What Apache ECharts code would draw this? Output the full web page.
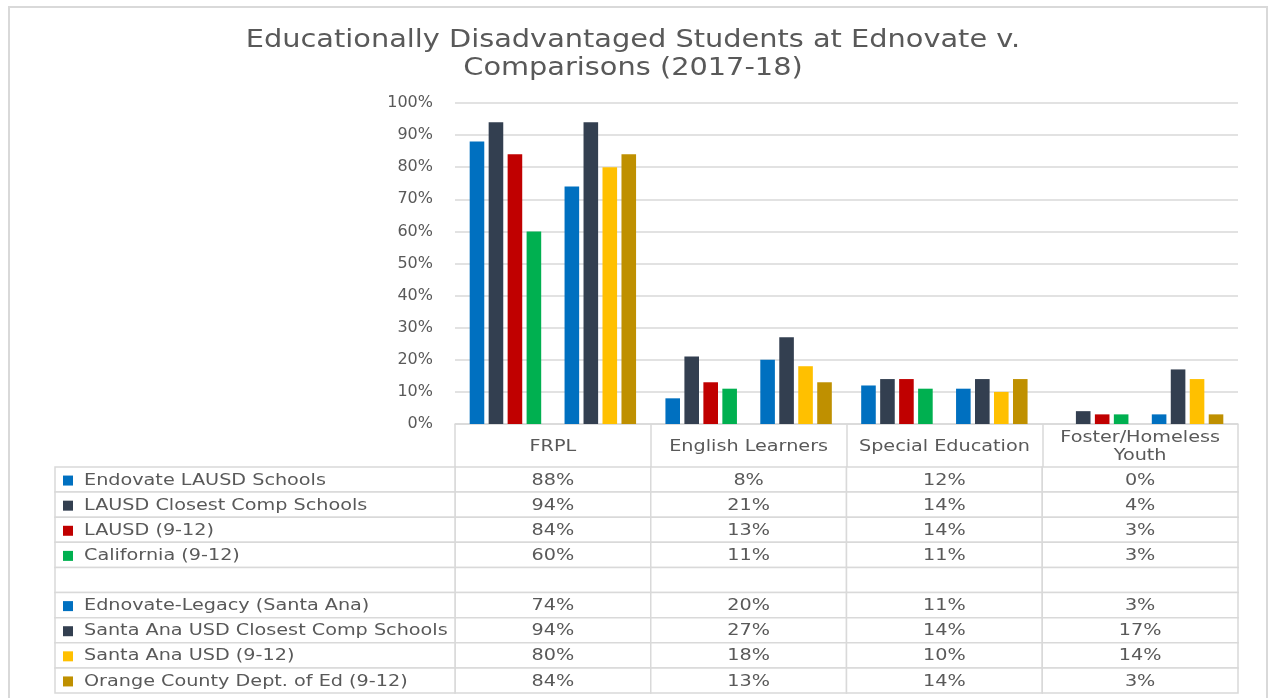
<!DOCTYPE html>
<html>
<head>
<meta charset="utf-8">
<script src="https://cdn.jsdelivr.net/npm/echarts@6/dist/echarts.min.js"></script>
<style>
	html, body { margin: 0; padding: 0; background: #fff; }
	#main { width: 1269px; height: 698px; }
</style>
</head>
<body>
<div id="main"></div>
<script>
// Categories (columns of the data table)
const categories = ['FRPL', 'English Learners', 'Special Education', 'Foster/Homeless Youth'];
const headerLines = [['FRPL'], ['English Learners'], ['Special Education'], ['Foster/Homeless', 'Youth']];

// Series names, the empty one is the spacer row of the table
const seriesNames = [
	'Endovate LAUSD Schools',
	'LAUSD Closest Comp Schools',
	'LAUSD (9-12)',
	'California (9-12)',
	'',
	'Ednovate-Legacy (Santa Ana)',
	'Santa Ana USD Closest Comp Schools',
	'Santa Ana USD (9-12)',
	'Orange County Dept. of Ed (9-12)'
];

// Values in percent, one array per series
const endovateLausd = [88, 8, 12, 0];
const lausdClosest = [94, 21, 14, 4];
const lausd = [84, 13, 14, 3];
const california = [60, 11, 11, 3];
const spacer = [null, null, null, null];
const ednovateLegacy = [74, 20, 11, 3];
const santaAnaClosest = [94, 27, 14, 17];
const santaAna = [80, 18, 10, 14];
const orangeCounty = [84, 13, 14, 3];

const seriesValues = [endovateLausd, lausdClosest, lausd, california, spacer, ednovateLegacy, santaAnaClosest, santaAna, orangeCounty];
const seriesColors = ['#0070C0', '#333F50', '#C00000', '#00B050', '#ffffff', '#0070C0', '#333F50', '#FFC000', '#BF9000'];

const textColor = '#595959';
const lineColor = '#d9d9d9';
const font = 'DejaVu Sans';
const labelColWidth = 400;
const headerHeight = 43;
const stretch = 1.2; // the original text is set wide

const myChart = echarts.init(document.getElementById('main'));

// bar series
const barSeries = seriesNames.map(function (name, i) {
	return {
		name: name || 'spacer',
		type: 'bar',
		xAxisIndex: 0,
		yAxisIndex: 0,
		barGap: '30%',
		barCategoryGap: '15%',
		itemStyle: { color: seriesColors[i] },
		data: seriesValues[i]
	};
});

// table cells: [column, row]
const cellData = [];
const cellText = [];
seriesValues.forEach(function (vals, r) {
	vals.forEach(function (v, c) {
		cellData.push([c, r]);
		cellText.push(v === null ? '' : v + '%');
	});
});
const rowData = seriesNames.map(function (n, r) {
	return [0, r];
});
const headerData = categories.map(function (c, i) {
	return [i, 0];
});

function wideText(text, x, y, align, size) {
	return {
		type: 'text',
		x: x,
		y: y,
		scaleX: stretch,
		style: {
			text: text,
			x: 0,
			y: 0,
			align: align,
			verticalAlign: 'middle',
			font: size + 'px "' + font + '"',
			fill: textColor
		}
	};
}

const option = {
	animation: false,
	graphic: [
		{
			type: 'rect',
			shape: { x: 9, y: 7, width: 1258, height: 700 },
			style: { fill: 'none', stroke: lineColor, lineWidth: 2 },
			silent: true
		},
		{
			type: 'text',
			x: 633,
			y: 27,
			scaleX: stretch,
			silent: true,
			style: {
				text: 'Educationally Disadvantaged Students at Ednovate v.\nComparisons (2017-18)',
				x: 0,
				y: 0,
				align: 'center',
				font: '24px "' + font + '"',
				lineHeight: 28,
				fill: textColor
			}
		}
	],
	grid: [
		{ left: 455, right: 31, top: 103, bottom: 274 },
		{ left: 455, right: 31, top: 467, bottom: 5 }
	],
	xAxis: [
		{
			type: 'category',
			gridIndex: 0,
			data: categories,
			axisLine: { lineStyle: { color: lineColor, width: 1.5 } },
			axisTick: { show: true, length: headerHeight, interval: 0, lineStyle: { color: lineColor, width: 1.5 } },
			axisLabel: { show: false }
		},
		{
			type: 'category',
			gridIndex: 1,
			data: categories,
			show: false
		}
	],
	yAxis: [
		{
			type: 'value',
			gridIndex: 0,
			min: 0,
			max: 100,
			interval: 10,
			axisLine: { show: false },
			axisTick: { show: false },
			splitLine: { lineStyle: { color: lineColor, width: 1.5 } },
			axisLabel: { formatter: '{value}%', color: textColor, fontFamily: font, fontSize: 16, margin: 22 }
		},
		{
			type: 'category',
			gridIndex: 1,
			inverse: true,
			data: seriesNames.map(function (n, i) { return 'r' + i; }),
			show: false
		}
	],
	series: barSeries.concat([
		{
			// header cells under the category axis
			type: 'custom',
			xAxisIndex: 0,
			yAxisIndex: 0,
			clip: false,
			silent: true,
			data: headerData,
			renderItem: function (params, api) {
				const i = api.value(0);
				const p = api.coord([i, 0]);
				const lines = headerLines[i];
				const cy = p[1] + headerHeight / 2 + 1;
				return {
					type: 'group',
					children: lines.map(function (t, k) {
						return wideText(t, p[0], cy + (k - (lines.length - 1) / 2) * 18, 'center', 16);
					})
				};
			}
		},
		{
			// value cells
			type: 'custom',
			xAxisIndex: 1,
			yAxisIndex: 1,
			clip: false,
			silent: true,
			data: cellData,
			renderItem: function (params, api) {
				const p = api.coord([api.value(0), api.value(1)]);
				const s = api.size([1, 1]);
				return {
					type: 'group',
					children: [
						{
							type: 'rect',
							shape: { x: p[0] - s[0] / 2, y: p[1] - s[1] / 2, width: s[0], height: s[1] },
							style: { fill: '#fff', stroke: lineColor, lineWidth: 1.5 }
						},
						wideText(cellText[params.dataIndex], p[0], p[1] + 1, 'center', 16)
					]
				};
			}
		},
		{
			// row label cells with colour key
			type: 'custom',
			xAxisIndex: 1,
			yAxisIndex: 1,
			clip: false,
			silent: true,
			data: rowData,
			renderItem: function (params, api) {
				const r = api.value(1);
				const p = api.coord([0, r]);
				const s = api.size([1, 1]);
				const x0 = params.coordSys.x - labelColWidth;
				const children = [
					{
						type: 'rect',
						shape: { x: x0, y: p[1] - s[1] / 2, width: labelColWidth, height: s[1] },
						style: { fill: '#fff', stroke: lineColor, lineWidth: 1.5 }
					}
				];
				if (seriesNames[r]) {
					children.push({
						type: 'rect',
						shape: { x: x0 + 8, y: p[1] - 4, width: 10, height: 10 },
						style: { fill: seriesColors[r] }
					});
					children.push(wideText(seriesNames[r], x0 + 29, p[1] + 1, 'left', 16));
				}
				return { type: 'group', children: children };
			}
		}
	])
};

myChart.setOption(option);
</script>
</body>
</html>
